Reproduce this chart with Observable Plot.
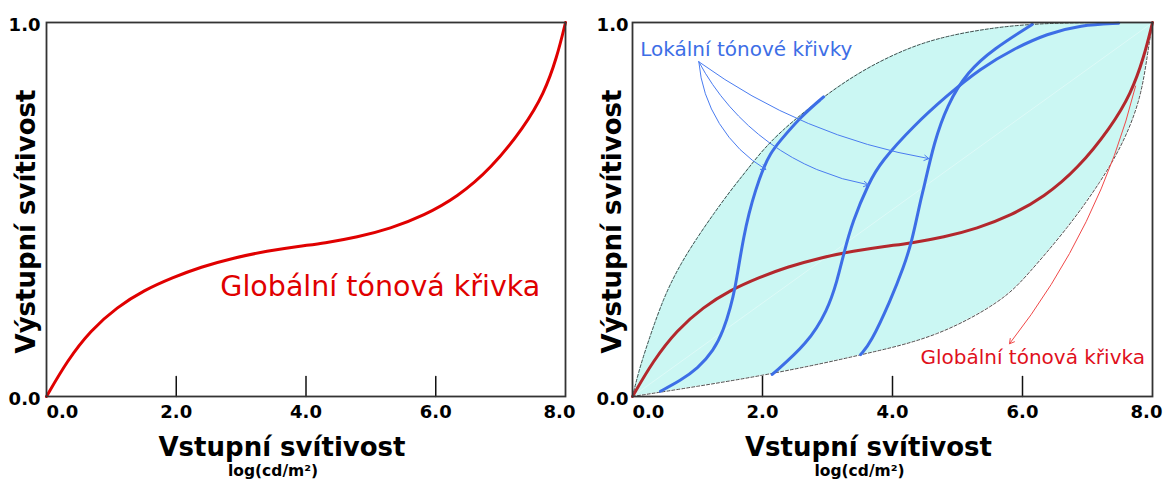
<!DOCTYPE html>
<html>
<head>
<meta charset="utf-8">
<script src="https://cdn.jsdelivr.net/npm/d3@7"></script>
<script src="https://cdn.jsdelivr.net/npm/@observablehq/plot@0.6"></script>
<style>
  html, body { margin: 0; padding: 0; background: #fff; }
  #wrap { display: flex; width: 1163px; height: 481px; overflow: hidden; }
</style>
</head>
<body>
<div id="wrap"></div>
<script>
// ---- axis ticks ----
const xTickValues = [0, 2, 4, 6, 8];
const xInnerTicks = [2, 4, 6];
const yTickValues = [0, 1];

// ---- global tone curve (red) ----
const globalX = [0, 0.32, 0.68, 1.09, 1.5, 1.96, 2.37, 2.89, 3.4, 3.9, 4.28, 4.79, 5.3, 5.82, 6.33, 6.85, 7.36, 7.67, 7.87, 8.0];
const globalY = [0, 0.096, 0.177, 0.239, 0.284, 0.319, 0.346, 0.371, 0.389, 0.402, 0.41, 0.426, 0.449, 0.484, 0.533, 0.609, 0.72, 0.81, 0.908, 1.0];

// ---- envelope of local curves (cyan region) ----
const upperX = [0, 0.1, 0.23, 0.48, 0.74, 1.0, 1.25, 1.51, 1.76, 2.12, 2.76, 3.48, 4.2, 4.84, 5.87, 6.89, 7.5, 8];
const upperY = [0, 0.07, 0.141, 0.266, 0.355, 0.426, 0.489, 0.551, 0.605, 0.685, 0.779, 0.868, 0.93, 0.966, 0.995, 1.0, 1.0, 1.0];
const lowerX = [0, 1.0, 2.0, 3.0, 3.6, 4.69, 5.71, 6.07, 6.69, 7.2, 7.56, 7.82, 7.92, 8];
const lowerY = [0, 0.027, 0.056, 0.091, 0.115, 0.159, 0.257, 0.324, 0.449, 0.573, 0.68, 0.797, 0.912, 1.0];
const diagonalX = [0, 8];
const diagonalY = [0, 1];

// ---- local tone curves (blue) ----
const local1X = [0.43, 0.74, 1.0, 1.25, 1.4, 1.51, 1.58, 1.64, 1.71, 1.79, 1.89, 2.02, 2.12, 2.25, 2.61, 2.94];
const local1Y = [0.014, 0.043, 0.074, 0.123, 0.177, 0.239, 0.292, 0.355, 0.426, 0.489, 0.551, 0.614, 0.649, 0.68, 0.752, 0.801];
const local2X = [2.15, 2.69, 3.0, 3.15, 3.25, 3.38, 3.64, 3.82, 4.33, 4.84, 5.35, 5.87, 6.38, 6.89, 7.48];
const local2Y = [0.059, 0.141, 0.23, 0.31, 0.382, 0.466, 0.573, 0.627, 0.725, 0.805, 0.877, 0.93, 0.97, 0.993, 0.998];
const local3X = [3.51, 3.66, 3.97, 4.17, 4.30, 4.43, 4.48, 4.64, 4.84, 5.15, 5.56, 6.15];
const local3Y = [0.112, 0.141, 0.257, 0.345, 0.415, 0.524, 0.556, 0.68, 0.779, 0.868, 0.93, 0.995];

// ---- annotations ----
const blueArrowX1 = [1.02, 1.02, 1.02];
const blueArrowY1 = [0.895, 0.895, 0.895];
const blueArrowX2 = [2.05, 3.63, 4.56];
const blueArrowY2 = [0.607, 0.566, 0.636];
const blueArrowBend = [-27, -26, -13];
const redArrowX1 = [7.74];
const redArrowY1 = [0.83];
const redArrowX2 = [5.80];
const redArrowY2 = [0.141];
const redArrowBend = 12;

const labelGlobal = "Globální tónová křivka";
const labelLocal = "Lokální tónové křivky";
const xTitle = "Vstupní svítivost";
const xUnit = "log(cd/m²)";
const yTitle = "Výstupní svítivost";

// ---- tables ----
const zip = (xs, ys, extra = {}) => xs.map((x, i) => ({x, y: ys[i], ...extra}));
const globalData = zip(globalX, globalY);
const upperData = zip(upperX, upperY);
const lowerData = zip(lowerX, lowerY);
const diagData = zip(diagonalX, diagonalY);
const localData = [
  ...zip(local1X, local1Y, {k: 1}),
  ...zip(local2X, local2Y, {k: 2}),
  ...zip(local3X, local3Y, {k: 3})
];
const blueArrows = blueArrowX1.map((x1, i) => ({x1, y1: blueArrowY1[i], x2: blueArrowX2[i], y2: blueArrowY2[i], bend: blueArrowBend[i]}));
const redArrows = redArrowX1.map((x1, i) => ({x1, y1: redArrowY1[i], x2: redArrowX2[i], y2: redArrowY2[i]}));

const tickLine = {draw(context, l) { context.moveTo(0, 0); context.lineTo(0, -l); }};
const fmt = d => d.toFixed(1);

function axes(yPad) {
  return [
    Plot.axisY(yTickValues, {tickSize: 0, tickPadding: yPad, tickFormat: fmt, dy: 3, label: null, fontSize: 18, fontWeight: "bold"}),
    Plot.axisX(xInnerTicks, {tickSize: 0, tickPadding: 9, tickFormat: fmt, label: null, fontSize: 18, fontWeight: "bold"}),
    Plot.axisX([xTickValues[0]], {tickSize: 0, tickPadding: 9, tickFormat: fmt, label: null, textAnchor: "start", fontSize: 18, fontWeight: "bold"}),
    Plot.axisX([xTickValues[xTickValues.length - 1]], {tickSize: 0, tickPadding: 9, tickFormat: fmt, label: null, dx: -6, fontSize: 18, fontWeight: "bold"}),
    Plot.vector(xInnerTicks, {x: d => d, y: 0, length: 20, anchor: "start", shape: tickLine, stroke: "#111", strokeWidth: 1.5}),
    Plot.text([xTitle], {text: d => d, frameAnchor: "bottom", dx: -24, dy: 59, lineAnchor: "bottom", fontSize: 26, fontWeight: "bold"}),
    Plot.text([xUnit], {text: d => d, frameAnchor: "bottom", dx: -33, dy: 79, lineAnchor: "bottom", fontSize: 15.5, fontWeight: "bold"}),
    Plot.text([yTitle], {text: d => d, frameAnchor: "left", textAnchor: "middle", rotate: -90, dx: -12, dy: 12, lineAnchor: "bottom", fontSize: 26, fontWeight: "bold"})
  ];
}

const common = {
  height: 481,
  marginTop: 22,
  marginBottom: 85,
  x: {domain: [0, 8]},
  y: {domain: [0, 1]},
  style: {fontFamily: "DejaVu Sans", color: "#000", background: "#fff", overflow: "visible"}
};

const left = Plot.plot({
  ...common,
  width: 581,
  marginLeft: 46,
  marginRight: 16,
  marks: [
    Plot.line(globalData, {x: "x", y: "y", stroke: "#e00000", strokeWidth: 3, curve: "basis"}),
    Plot.text([labelGlobal], {text: d => d, x: 2.68, y: 0.27, textAnchor: "start", lineAnchor: "bottom", fill: "#e00000", fontSize: 28.5, fontWeight: "normal"}),
    ...axes(6),
    Plot.frame({stroke: "#333", strokeWidth: 1.8})
  ]
});

const right = Plot.plot({
  ...common,
  width: 582,
  marginLeft: 51,
  marginRight: 11,
  marks: [
    Plot.areaY(upperData, {x: "x", y: "y", fill: "#cbf7f3", curve: "basis"}),
    Plot.areaY(lowerData, {x: "x", y: "y", fill: "#ffffff", curve: "basis"}),
    Plot.line(diagData, {x: "x", y: "y", stroke: "#ffffff", strokeOpacity: 0.35, strokeWidth: 1}),
    Plot.line(upperData, {x: "x", y: "y", stroke: "#222", strokeWidth: 0.8, strokeDasharray: "3,2", curve: "basis"}),
    Plot.line(lowerData, {x: "x", y: "y", stroke: "#222", strokeWidth: 0.8, strokeDasharray: "3,2", curve: "basis"}),
    Plot.line(globalData, {x: "x", y: "y", stroke: "#b3282d", strokeWidth: 3, curve: "basis"}),
    Plot.line(localData, {x: "x", y: "y", z: "k", stroke: "#3d6ee6", strokeWidth: 3, curve: "basis"}),
    ...blueArrows.map(a => Plot.arrow([a], {x1: "x1", y1: "y1", x2: "x2", y2: "y2", bend: a.bend, stroke: "#4a7cf0", strokeWidth: 1, headLength: 8})),
    Plot.arrow(redArrows, {x1: "x1", y1: "y1", x2: "x2", y2: "y2", bend: redArrowBend, stroke: "#f04848", strokeWidth: 1, headLength: 8}),
    Plot.text([labelLocal], {text: d => d, x: 0.12, y: 0.911, textAnchor: "start", lineAnchor: "bottom", fill: "#3d6ee6", fontSize: 20, fontWeight: "normal"}),
    Plot.text([labelGlobal], {text: d => d, x: 4.43, y: 0.0856, textAnchor: "start", lineAnchor: "bottom", fill: "#e0101c", fontSize: 20, fontWeight: "normal"}),
    ...axes(4),
    Plot.frame({stroke: "#333", strokeWidth: 1.8})
  ]
});

document.getElementById("wrap").append(left, right);
</script>
</body>
</html>
